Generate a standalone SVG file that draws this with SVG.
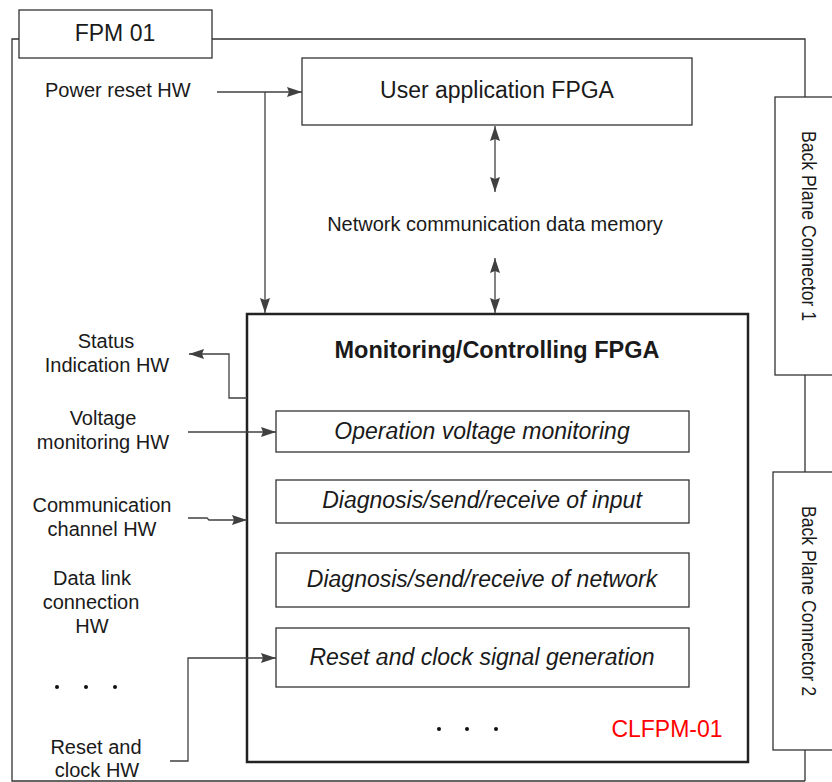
<svg xmlns="http://www.w3.org/2000/svg" width="832" height="782" viewBox="0 0 832 782">
  <defs>
    <marker id="arrow" viewBox="0 0 15 10" refX="15" refY="5" markerWidth="15" markerHeight="10" markerUnits="userSpaceOnUse" orient="auto-start-reverse">
      <path d="M0,0 L15,5 L0,10 L2,5 Z" fill="#404040"/>
    </marker>
    <style>
      text { font-family: "Liberation Sans", Arial, sans-serif; fill: #1a1a1a; }
      .lbl { font-size: 20px; text-anchor: middle; }
      .big { font-size: 23px; text-anchor: middle; }
      .it { font-size: 23px; font-style: italic; text-anchor: middle; }
      .bold { font-size: 23.5px; font-weight: bold; text-anchor: middle; }
      .conn { font-size: 21px; text-anchor: middle; }
      .box { fill: #fff; stroke: #333; stroke-width: 1.3; }
      .frame { fill: none; stroke: #333; stroke-width: 1.3; }
      .wire { fill: none; stroke: #404040; stroke-width: 1.3; }
      .arr { marker-end: url(#arrow); }
      .bi { marker-start: url(#arrow); marker-end: url(#arrow); }
      .dot { fill: #111; }
    </style>
  </defs>
  <rect width="832" height="782" fill="#fff"/>

  <!-- module outline -->
  <g id="frame">
    <path class="frame" d="M19,39 H12 V781 H805 M212,39 H805 V97 M805,375 V472 M805,750 V781"/>
  </g>

  <g id="fpm01">
    <rect class="box" x="19" y="10" width="193" height="48"/>
    <text class="big" x="115" y="41">FPM 01</text>
  </g>

  <g id="user-fpga">
    <rect class="box" x="302" y="58" width="390" height="67"/>
    <text class="big" x="497" y="98">User application FPGA</text>
  </g>

  <g id="backplane-1">
    <rect class="box" x="775" y="97" width="70" height="278"/>
    <text class="conn" transform="translate(802,226) rotate(90) scale(0.84,1)">Back Plane Connector 1</text>
  </g>

  <g id="backplane-2">
    <rect class="box" x="773" y="472" width="72" height="278"/>
    <text class="conn" transform="translate(802,601) rotate(90) scale(0.84,1)">Back Plane Connector 2</text>
  </g>

  <g id="monitor-fpga">
    <rect x="247" y="314" width="501" height="448" fill="#fff" stroke="#222" stroke-width="2.5"/>
    <text class="bold" x="497" y="358">Monitoring/Controlling FPGA</text>
    <circle class="dot" cx="439" cy="729" r="2"/>
    <circle class="dot" cx="467" cy="729" r="2"/>
    <circle class="dot" cx="496" cy="729" r="2"/>
    <text x="667" y="737" style="font-size:23px;text-anchor:middle;fill:#ff0000">CLFPM-01</text>
  </g>

  <g id="func-voltage">
    <rect class="box" x="276" y="411" width="413" height="41"/>
    <text class="it" x="482" y="439">Operation voltage monitoring</text>
  </g>
  <g id="func-input">
    <rect class="box" x="276" y="480" width="413" height="43"/>
    <text class="it" x="482" y="508">Diagnosis/send/receive of input</text>
  </g>
  <g id="func-network">
    <rect class="box" x="276" y="553" width="413" height="54"/>
    <text class="it" x="482" y="587">Diagnosis/send/receive of network</text>
  </g>
  <g id="func-reset">
    <rect class="box" x="276" y="628" width="413" height="59"/>
    <text class="it" x="482" y="665">Reset and clock signal generation</text>
  </g>

  <!-- hardware labels -->
  <g id="power-reset-hw">
    <text x="45" y="97" style="font-size:20px">Power reset HW</text>
  </g>
  <g id="network-memory">
    <text class="lbl" x="495" y="231">Network communication data memory</text>
  </g>
  <g id="status-hw">
    <text class="lbl" x="106" y="348">Status</text>
    <text class="lbl" x="107" y="372">Indication HW</text>
  </g>
  <g id="voltage-hw">
    <text class="lbl" x="103" y="425">Voltage</text>
    <text class="lbl" x="103" y="449">monitoring HW</text>
  </g>
  <g id="comm-hw">
    <text class="lbl" x="102" y="512">Communication</text>
    <text class="lbl" x="102" y="536">channel HW</text>
  </g>
  <g id="datalink-hw">
    <text class="lbl" x="92" y="585">Data link</text>
    <text class="lbl" x="91" y="609">connection</text>
    <text class="lbl" x="92" y="633">HW</text>
  </g>
  <g id="more-hw">
    <circle class="dot" cx="57" cy="687" r="2"/>
    <circle class="dot" cx="86" cy="687" r="2"/>
    <circle class="dot" cx="115" cy="687" r="2"/>
  </g>
  <g id="reset-clock-hw">
    <text class="lbl" x="96" y="754">Reset and</text>
    <text class="lbl" x="97" y="777">clock HW</text>
  </g>

  <!-- connectors -->
  <g id="connectors">
    <path class="wire arr" d="M217,92 H302"/>
    <path class="wire arr" d="M265,92 V313"/>
    <path class="wire bi" d="M495,126 V192"/>
    <path class="wire bi" d="M495,258 V313"/>
    <path class="wire arr" d="M247,398 H229 V354 H189"/>
    <path class="wire arr" d="M188,432 H276"/>
    <path class="wire arr" d="M188,518 H207 L209,520 H247"/>
    <path class="wire arr" d="M170,761 H188 V658 H276"/>
  </g>
</svg>
